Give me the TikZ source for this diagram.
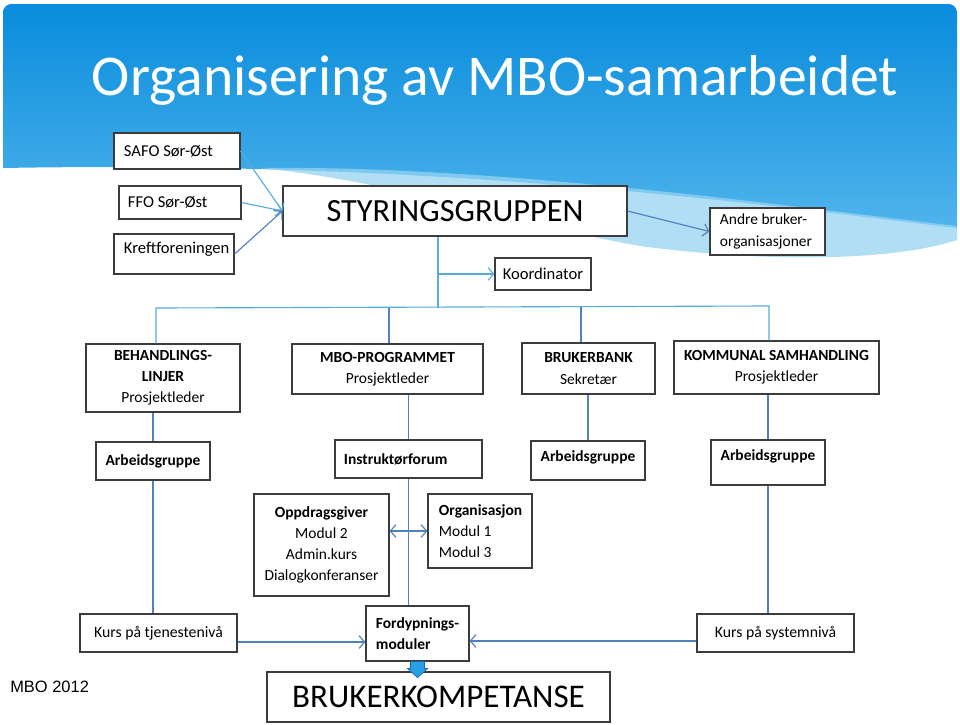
\documentclass[tikz,border=0pt]{standalone}
\usepackage{fontspec}
\setmainfont{Carlito}
\newfontfamily\arialfont{Liberation Sans}
\usetikzlibrary{arrows.meta}

\definecolor{slideTop}{RGB}{8,140,220}
\definecolor{slideBot}{RGB}{80,180,236}
\definecolor{swoosh}{RGB}{150,212,242}
\definecolor{boxline}{RGB}{60,60,60}
\definecolor{linkA}{RGB}{86,172,222}
\definecolor{linkB}{RGB}{79,129,189}
\definecolor{blockblue}{RGB}{40,160,230}
\definecolor{blockedge}{RGB}{30,100,170}

\tikzset{
  box/.style={draw=boxline, fill=white, line width=0.8pt, inner sep=0pt,
    align=center, font=\fontsize{11}{15}\selectfont},
  lbox/.style={box, align=flush left},
  wh/.style 2 args={minimum width=#1*0.025cm, minimum height=#2*0.025cm},
  topfont/.style={font=\fontsize{11.8}{15}\selectfont},
  bigbox/.style={box, font=\fontsize{23}{27}\selectfont},
  link/.style={draw=linkA, line width=0.8pt},
  linkdark/.style={draw=linkB, line width=0.8pt},
  arr/.style={-{Straight Barb[length=4pt,width=9pt]}},
  darr/.style={{Straight Barb[length=4pt,width=9pt]}-{Straight Barb[length=4pt,width=9pt]}}
}

\begin{document}
\begin{tikzpicture}[x=0.025cm, y=-0.025cm]
  % slide background
  \fill[white] (0,0) rectangle (960,724);
  \shade[top color=slideTop, bottom color=slideBot]
    (3,170) [rounded corners=6pt]-- (3,4) -- (957,4) [sharp corners]-- (957,228)
    .. controls (760,205) and (450,160) .. (3,168) -- cycle;
  \fill[swoosh, opacity=0.75] (260,168) .. controls (500,165) and (800,208) .. (957,226)
    -- (957,240) .. controls (890,262) and (760,262) .. (640,246)
    .. controls (520,225) and (400,182) .. (260,168) -- cycle;
  \node[text=white, font=\fontsize{41}{48}\selectfont, inner sep=0pt] (ttl) at (495,80) {Organisering av MBO-samarbeidet};

  % top row
  \node[lbox, topfont, wh={126}{36}, text width=2.65cm, inner xsep=0.25cm] (safo) at (177,151) {SAFO Sør-Øst};
  \node[lbox, topfont, wh={122}{33}, text width=2.6cm, inner xsep=0.225cm] (ffo) at (180,202.5) {FFO Sør-Øst};
  \node[lbox, topfont, wh={120}{40}, text width=2.5cm, inner xsep=0.25cm, text height=8pt, text depth=8.1pt] (kreft) at (174,254) {Kreftforeningen};
  \node[bigbox, wh={344}{50}] (styr) at (455,211) {STYRINGSGRUPPEN};
  \node[box, topfont, wh={96}{32}] (koord) at (543,274) {Koordinator};
  \node[lbox, wh={115}{47}, text width=2.375cm, inner xsep=0.25cm] (andre) at (767.5,231.5) {\mbox{Andre bruker-}\\organisasjoner};

  % second row
  \node[box, wh={154}{68}] (behand) at (163,378) {\textbf{BEHANDLINGS-}\\\textbf{LINJER}\\Prosjektleder};
  \node[box, wh={191}{50}] (mbo) at (387.5,369) {\textbf{MBO-PROGRAMMET}\\Prosjektleder};
  \node[box, wh={133}{51}] (bank) at (588.5,368.5) {\textbf{BRUKERBANK}\\Sekretær};
  \node[box, wh={205}{53}] (komm) at (776.5,367.5) {\textbf{KOMMUNAL SAMHANDLING}\\Prosjektleder};

  % third row
  \node[box, wh={114}{38}] (arb1) at (153,461) {\textbf{Arbeidsgruppe}};
  \node[lbox, wh={147}{38}, text width=3.225cm, inner xsep=0.225cm] (instr) at (408.5,459) {\textbf{Instruktørforum}};
  \node[box, wh={114}{39}, text height=8pt, text depth=7pt] (arb2) at (588,460.5) {\textbf{Arbeidsgruppe}};
  \node[box, wh={114}{45}, text height=8pt, text depth=10.5pt] (arb3) at (768,462.5) {\textbf{Arbeidsgruppe}};

  % modules
  \node[box, wh={135}{102}] (opp) at (321.5,545) {\textbf{Oppdragsgiver}\\Modul 2\\Admin.kurs\\Dialogkonferanser};
  \node[lbox, wh={104}{74}, text width=2.05cm, inner xsep=0.275cm] (org) at (480,531) {\textbf{Organisasjon}\\Modul 1\\Modul 3};
  \node[lbox, wh={103}{55}, text width=2.075cm, inner xsep=0.25cm] (ford) at (417.5,633.5) {\mbox{\textbf{Fordypnings-}}\\\textbf{moduler}};
  \node[box, wh={157}{38}, font=\fontsize{11.2}{13}\selectfont] (kurst) at (158.5,633) {Kurs på tjenestenivå};
  \node[box, wh={157}{38}, font=\fontsize{11.2}{13}\selectfont] (kurss) at (775.5,633) {Kurs på systemnivå};
  \node[box, wh={343}{50}, font=\fontsize{23.5}{27}\selectfont] (bk) at (438.5,697) {BRUKERKOMPETANSE};
  \node[anchor=west, inner sep=0pt, font=\arialfont\fontsize{11.7}{14}\selectfont] (year) at (10,687) {MBO 2012};

  % into the steering group
  \draw[link, arr] (safo.east) -- (styr.west);
  \draw[link, arr] (ffo.east) -- (styr.west);
  \draw[linkdark, arr] (kreft.east) -- (styr.west);
  \draw[linkdark, arr] (styr.east) -- (andre.west);

  % bus
  \coordinate (hub) at (438,308);
  \coordinate (busL) at (156,308);
  \coordinate (busR) at (769,306);
  \coordinate (tapM) at (389,308);
  \coordinate (tapB) at (581,307);
  \draw[link] (styr.south -| hub) -- (hub);
  \draw[link, arr] (hub |- koord.west) -- (koord.west);
  \draw[link] (behand.north -| busL) -- (busL) -- (busR) -- (komm.north -| busR);
  \draw[linkdark] (tapM) -- (tapM |- mbo.north);
  \draw[linkdark] (tapB) -- (tapB |- bank.north);

  % down to the working groups
  \draw[linkdark] (behand.south -| arb1.north) -- (arb1.north);
  \draw[linkdark] (mbo.south -| instr.north) -- (instr.north);
  \draw[linkdark] (bank.south -| arb2.north) -- (arb2.north);
  \draw[linkdark] (komm.south -| arb3.north) -- (arb3.north);
  \draw[linkdark] (arb1.south) -- (arb1.south |- kurst.north);
  \draw[linkdark] (arb3.south) -- (arb3.south |- kurss.north);
  \draw[linkdark] (instr.south) -- (instr.south |- ford.north);
  \draw[linkdark, darr] (opp.east |- org.west) -- (org.west);
  \draw[linkdark, arr] ([yshift=-0.225cm]kurst.east) -- ([yshift=-0.225cm]kurst.east -| ford.west);
  \draw[linkdark, arr] ([yshift=-0.2cm]kurss.west) -- ([yshift=-0.2cm]kurss.west -| ford.east);

  % block arrow
  \filldraw[fill=blockblue, draw=blockedge, line width=0.5pt]
    ([xshift=-0.175cm]ford.south) -- ++(0,7) -- ++(-3,0) -- ++(10,9)
    -- ++(10,-9) -- ++(-3,0) -- ++(0,-7) -- cycle;
\end{tikzpicture}
\end{document}
